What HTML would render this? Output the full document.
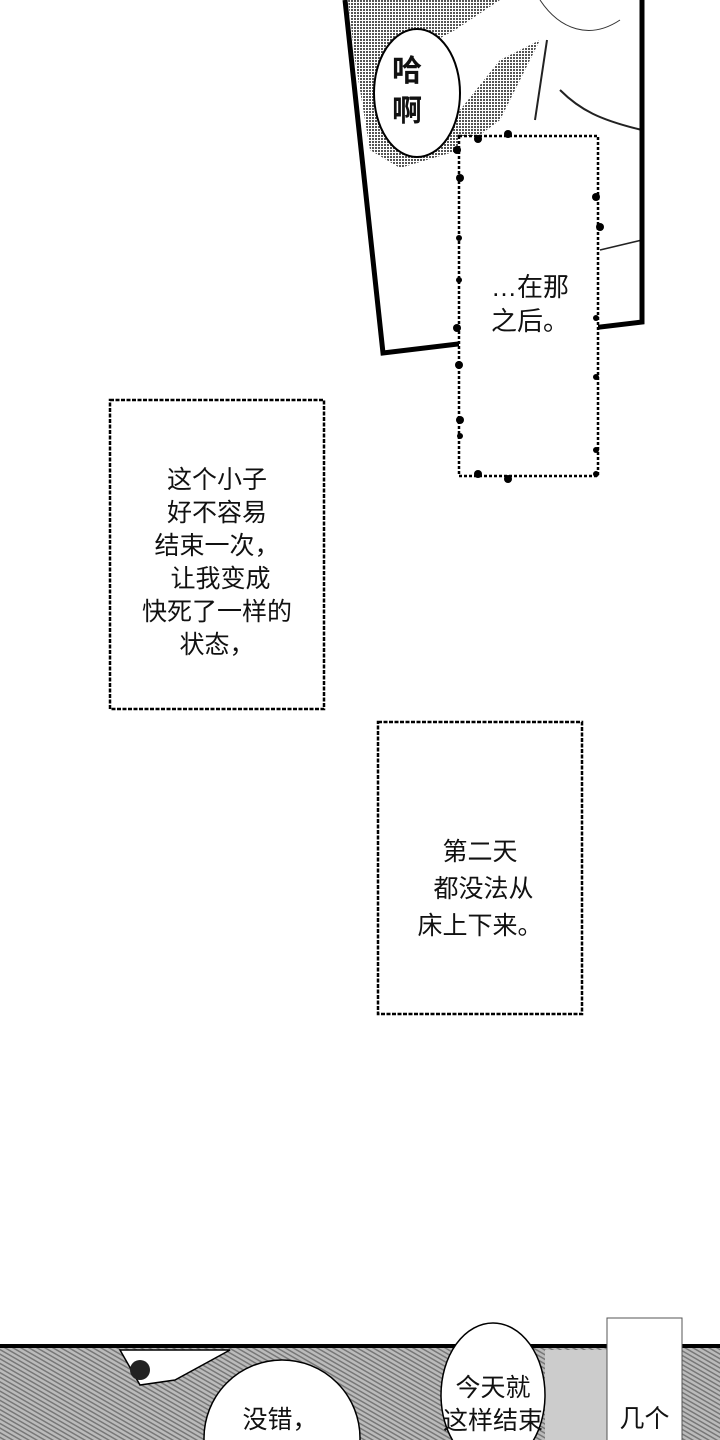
<!DOCTYPE html>
<html><head><meta charset="utf-8"><style>
html,body{margin:0;width:720px;height:1440px;overflow:hidden}
body{background:#fff;position:relative;font-family:"Liberation Sans","Noto Sans CJK SC",sans-serif}
.t{position:absolute;text-align:center;color:#111;font-size:25px;line-height:33px;white-space:nowrap}
</style></head><body>
<svg width="720" height="1440" style="position:absolute;left:0;top:0">
<defs>
<pattern id="dots" width="3" height="3" patternUnits="userSpaceOnUse"><rect width="3" height="3" fill="#fff"/><rect width="2" height="2" fill="#555"/></pattern>
<pattern id="hatch" width="4" height="4" patternUnits="userSpaceOnUse" patternTransform="rotate(30)"><rect width="4" height="4" fill="#bbb"/><rect width="4" height="1.5" fill="#777"/></pattern>
</defs>
<polygon points="345,0 642,0 642,322 383,353" fill="#fff"/>
<polygon points="348,0 500,0 455,30 400,60 460,110 500,60 540,40 500,120 460,150 400,168 370,150 355,60" fill="url(#dots)"/>
<path d="M540,0 C560,30 590,40 620,20" fill="none" stroke="#333" stroke-width="1"/>
<path d="M547,40 L535,120 M560,90 C580,110 600,120 642,130" fill="none" stroke="#222" stroke-width="2"/>
<path d="M600,250 L642,240" stroke="#222" stroke-width="1.5"/>
<polyline points="345,0 383,353 642,322 642,0" fill="none" stroke="#000" stroke-width="5"/>
<ellipse cx="417" cy="93" rx="43" ry="64" fill="#fff" stroke="#000" stroke-width="2"/>
<rect x="459" y="136" width="139" height="340" fill="#fff" stroke="#000" stroke-width="2.5" stroke-dasharray="3 2"/>
<g fill="#000"><circle cx="478" cy="139" r="4"/><circle cx="508" cy="134" r="4"/><circle cx="457" cy="150" r="4"/><circle cx="460" cy="178" r="4"/><circle cx="596" cy="197" r="4"/><circle cx="600" cy="227" r="4"/><circle cx="459" cy="238" r="3"/><circle cx="459" cy="280" r="3"/><circle cx="596" cy="318" r="3"/><circle cx="457" cy="328" r="4"/><circle cx="459" cy="365" r="4"/><circle cx="596" cy="377" r="3"/><circle cx="460" cy="420" r="4"/><circle cx="460" cy="436" r="3"/><circle cx="596" cy="450" r="3"/><circle cx="478" cy="474" r="4"/><circle cx="508" cy="479" r="4"/><circle cx="596" cy="474" r="3"/></g>
<rect x="110" y="400" width="214" height="309" fill="#fff" stroke="#000" stroke-width="2.5" stroke-dasharray="4 1.5"/>
<rect x="378" y="722" width="204" height="292" fill="#fff" stroke="#000" stroke-width="2.5" stroke-dasharray="4 1.5"/>
<rect x="0" y="1346" width="720" height="94" fill="url(#hatch)"/>
<rect x="0" y="1344" width="720" height="4" fill="#000"/>
<path d="M120,1350 L140,1385 L175,1380 L230,1350 Z" fill="#fff" stroke="#000" stroke-width="1.5"/>
<circle cx="140" cy="1370" r="10" fill="#222"/>
<rect x="545" y="1350" width="80" height="90" fill="#ccc"/>
<ellipse cx="282" cy="1438" rx="78" ry="78" fill="#fff" stroke="#000" stroke-width="1.5"/>
<ellipse cx="493" cy="1395" rx="52" ry="72" fill="#fff" stroke="#000" stroke-width="1.5"/>
<rect x="607" y="1318" width="75" height="130" fill="#fff" stroke="#555" stroke-width="1"/>
</svg>
<div class="t" style="left:392px;top:52px;font-size:30px;line-height:40px;font-weight:bold">哈<br>啊</div>
<div class="t" style="left:465px;top:270px;width:130px;font-size:26px;line-height:34px">…在那<br>之后。</div>
<div class="t" style="left:105px;top:464px;width:224px">这个小子<br>好不容易<br>结束一次，<br>&nbsp;让我变成<br>快死了一样的<br>状态，</div>
<div class="t" style="left:378px;top:834px;width:204px;line-height:37px">第二天<br>&nbsp;都没法从<br>床上下来。</div>
<div class="t" style="left:210px;top:1404px;width:140px">没错，</div>
<div class="t" style="left:433px;top:1372px;width:120px;line-height:33px">今天就<br>这样结束</div>
<div class="t" style="left:607px;top:1403px;width:75px">几个</div>
</body></html>
